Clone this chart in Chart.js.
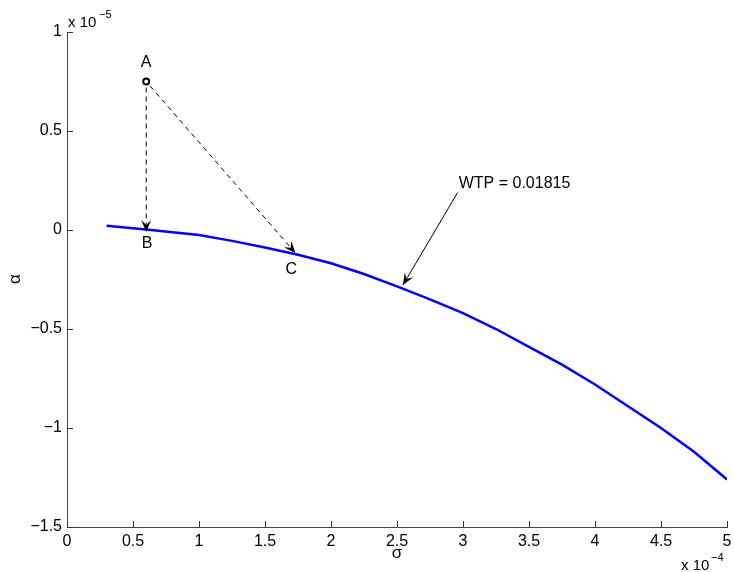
<!DOCTYPE html>
<html>
<head>
<meta charset="utf-8">
<script src="https://cdn.jsdelivr.net/npm/chart.js@4/dist/chart.umd.min.js"></script>
<style>
  html, body { margin: 0; padding: 0; background: #fff; }
  #wrap { width: 734px; height: 572px; }
</style>
</head>
<body>
<div id="wrap"><canvas id="ch"></canvas></div>
<script>
// sigma in units of 1e-4, alpha in units of 1e-5
const sigma = [0.3, 0.6, 1.0, 1.25, 1.5, 1.75, 2.0, 2.25, 2.5, 2.75, 3.0, 3.25, 3.5, 3.75, 4.0, 4.25, 4.5, 4.75, 5.0]
const alpha = [0.022, 0.003, -0.025, -0.055, -0.088, -0.125, -0.168, -0.222, -0.285, -0.35, -0.42, -0.50, -0.59, -0.68, -0.78, -0.89, -1.0, -1.12, -1.26]
const xTicks = [0, 0.5, 1, 1.5, 2, 2.5, 3, 3.5, 4, 4.5, 5]
const yTicks = [-1.5, -1, -0.5, 0, 0.5, 1]

const pointA = { x: 0.6, y: 0.75 }
const pointB = { x: 0.6, y: -0.01 }
const pointC = { x: 1.73, y: -0.116 }
const wtpText = 'WTP = 0.01815'
const wtpFrom = { x: 2.96, y: 0.19 }
const wtpTo = { x: 2.545, y: -0.278 }

const FAM = '"Liberation Sans", Arial, sans-serif'
const FONT = '16px ' + FAM
const fmt = v => (v < 0 ? '\u2212' + String(-v) : String(v))

function arrowHead(ctx, x0, y0, x1, y1) {
  const a = Math.atan2(y1 - y0, x1 - x0)
  const len = 12, w = 5, back = 7
  ctx.save()
  ctx.translate(x1, y1)
  ctx.rotate(a)
  ctx.setLineDash([])
  ctx.beginPath()
  ctx.moveTo(0, 0)
  ctx.lineTo(-len, -w)
  ctx.lineTo(-back, 0)
  ctx.lineTo(-len, w)
  ctx.closePath()
  ctx.fill()
  ctx.restore()
}

const overlay = {
  id: 'overlay',
  afterDraw(chart) {
    const { ctx, chartArea: ca, scales: { x, y } } = chart
    const px = p => [x.getPixelForValue(p.x), y.getPixelForValue(p.y)]
    ctx.save()
    // inward ticks
    ctx.strokeStyle = '#333'
    ctx.lineWidth = 1
    ctx.beginPath()
    xTicks.forEach(t => {
      const X = Math.round(x.getPixelForValue(t)) + 0.5
      ctx.moveTo(X, ca.bottom); ctx.lineTo(X, ca.bottom - 6)
    })
    yTicks.forEach(t => {
      const Y = Math.round(y.getPixelForValue(t)) + 0.5
      ctx.moveTo(ca.left, Y); ctx.lineTo(ca.left + 6, Y)
    })
    ctx.stroke()

    // dashed arrows A->B, A->C
    ctx.strokeStyle = '#000'
    ctx.fillStyle = '#000'
    ctx.lineWidth = 1
    const [ax, ay] = px(pointA)
    ;[pointB, pointC].forEach(p => {
      const [bx, by] = px(p)
      const ang = Math.atan2(by - ay, bx - ax)
      const sx = ax + Math.cos(ang) * 6, sy = ay + Math.sin(ang) * 6
      ctx.setLineDash([5, 4])
      ctx.beginPath()
      ctx.moveTo(sx, sy); ctx.lineTo(bx - Math.cos(ang) * 7, by - Math.sin(ang) * 7)
      ctx.stroke()
      arrowHead(ctx, sx, sy, bx, by)
    })
    ctx.setLineDash([])

    // WTP arrow
    const [fx, fy] = px(wtpFrom)
    const [tx, ty] = px(wtpTo)
    ctx.beginPath()
    ctx.moveTo(fx, fy); ctx.lineTo(tx, ty)
    ctx.stroke()
    arrowHead(ctx, fx, fy, tx, ty)

    // labels
    ctx.font = FONT
    ctx.textAlign = 'center'
    ctx.textBaseline = 'middle'
    ctx.fillText('A', ax, ay - 19)
    const [bx, by] = px({ x: pointB.x, y: 0 })
    ctx.fillText('B', bx + 1, by + 14)
    const [cx, cy] = px(pointC)
    ctx.fillText('C', cx - 4, cy + 17)
    ctx.textAlign = 'left'
    ctx.fillText(wtpText, fx + 1, fy - 9)

    // axis titles
    ctx.textAlign = 'center'
    ctx.font = '17px ' + FAM
    ctx.fillText('\u03c3', (ca.left + ca.right) / 2, 553)
    ctx.save()
    ctx.translate(15, 279)
    ctx.rotate(-Math.PI / 2)
    ctx.fillText('\u03b1', 0, 0)
    ctx.restore()

    // exponent multipliers
    ctx.textAlign = 'left'
    ctx.textBaseline = 'alphabetic'
    ctx.font = '15px ' + FAM
    ctx.fillText('x 10', 68, 27)
    ctx.fillText('x 10', 681, 570)
    ctx.font = '11px ' + FAM
    ctx.fillText('\u22125', 99, 18)
    ctx.fillText('\u22124', 711, 561)
    ctx.restore()
  }
}

new Chart(document.getElementById('ch'), {
  type: 'line',
  data: {
    datasets: [
      {
        data: sigma.map((s, i) => ({ x: s, y: alpha[i] })),
        borderColor: '#0000ff',
        borderWidth: 2.5,
        pointRadius: 0,
        tension: 0,
        fill: false
      },
      {
        data: [pointA],
        showLine: false,
        pointRadius: 3,
        pointBorderWidth: 2,
        pointBorderColor: '#000',
        pointBackgroundColor: '#fff'
      }
    ]
  },
  options: {
    responsive: true,
    maintainAspectRatio: false,
    animation: false,
    layout: { padding: { top: 32, right: 7, left: 0, bottom: 0 } },
    plugins: { legend: { display: false }, tooltip: { enabled: false } },
    scales: {
      x: {
        type: 'linear', min: 0, max: 5,
        grid: { display: false, drawTicks: false },
        border: { display: true, color: '#444', width: 1 },
        afterBuildTicks: s => { s.ticks = xTicks.map(v => ({ value: v })) },
        afterFit: s => { s.height = 45; s.paddingLeft = 0; s.paddingRight = 0 },
        ticks: {
          color: '#000', font: { family: FAM, size: 16 },
          padding: 5, maxRotation: 0, autoSkip: false,
          callback: v => fmt(v)
        }
      },
      y: {
        type: 'linear', min: -1.5, max: 1,
        grid: { display: false, drawTicks: false },
        border: { display: true, color: '#444', width: 1 },
        afterBuildTicks: s => { s.ticks = yTicks.map(v => ({ value: v })) },
        afterFit: s => { s.width = 67; s.paddingTop = 0; s.paddingBottom = 0 },
        ticks: {
          color: '#000', font: { family: FAM, size: 16 },
          padding: 5, autoSkip: false,
          callback: v => fmt(v)
        }
      }
    }
  },
  plugins: [overlay]
})
</script>
</body>
</html>
